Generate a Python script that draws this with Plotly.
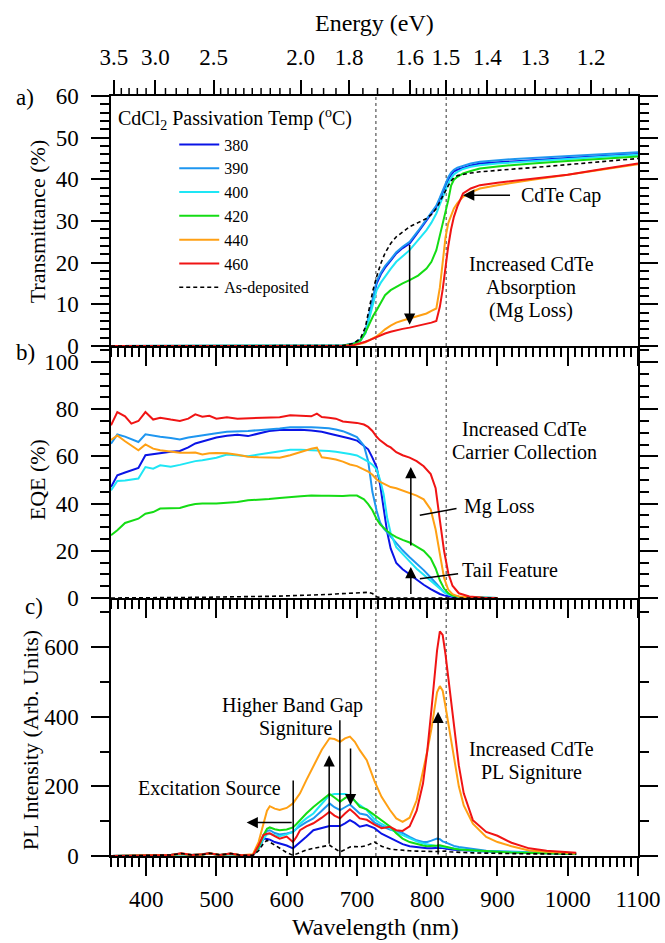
import plotly.graph_objects as go

# ---------------- data ----------------
# a) transmittance (%)
wl_T = [350, 450, 550, 650, 680, 695, 705, 712, 718, 723, 728, 734, 740, 748, 756, 765, 775, 787,
        799, 806, 813, 818, 822, 826, 830, 834, 838, 843, 851, 862, 875, 900, 925, 950, 1000, 1050, 1100]
T_380 = [0, 0, 0, 0, 0.1, 0.5, 1.3, 3.2, 7.8, 11.5, 15, 17.2, 18.8, 20.5, 22.2, 23.5, 24.6, 27.3,
         30.2, 31.6, 33.4, 35.2, 36.8, 38.5, 40, 41.1, 41.9, 42.3, 42.8, 43.3, 43.8, 44.1, 44.4, 44.6, 45.1, 45.6, 46.1]
T_390 = [0, 0, 0, 0, 0.1, 0.6, 1.5, 3.5, 8.2, 12, 15.5, 17.6, 19.2, 20.8, 22.5, 23.8, 25, 27.6,
         30.4, 31.9, 33.7, 35.6, 37.3, 39, 40.5, 41.6, 42.3, 42.8, 43.3, 43.8, 44.2, 44.6, 44.9, 45.1, 45.6, 46.1, 46.5]
T_400 = [0, 0, 0, 0, 0.1, 0.5, 1.3, 3, 7, 10.2, 13.4, 15.2, 16.7, 18.5, 20.2, 21.6, 23, 25.4,
         27.8, 29.6, 31.8, 34, 35.8, 37.4, 39, 40.3, 41.2, 41.8, 42.5, 43, 43.4, 43.8, 44.1, 44.4, 44.9, 45.4, 45.9]
T_420 = [0, 0, 0, 0, 0.1, 0.5, 1.3, 3.2, 5.5, 7.2, 8.6, 10.5, 12.2, 13.4, 14.2, 15, 15.8, 16.9,
         18.6, 20.2, 23, 26.5, 29.5, 31.8, 35, 38.5, 39.9, 40.6, 41.4, 42, 42.6, 43.1, 43.5, 43.8, 44.4, 45, 45.5]
T_440 = [0, 0, 0, 0, 0, 0.2, 0.5, 0.9, 1.4, 1.8, 2.3, 3.1, 4, 4.9, 5.6, 6.1, 6.6, 7.2,
         7.8, 8.4, 9, 14, 20, 26, 29.5, 31.5, 33, 34.3, 35.8, 36.9, 37.8, 38.6, 39.3, 39.9, 41.1, 42.4, 43.6]
T_460 = [0, 0, 0, 0, 0, 0.2, 0.6, 1, 1.4, 1.8, 2.2, 2.6, 3, 3.4, 3.8, 4.1, 4.4, 4.8,
         5.2, 5.6, 6, 9.4, 13.5, 19.5, 24, 28, 31, 33.5, 36.6, 37.8, 38.6, 39.2, 39.7, 40.1, 41.1, 42.5, 43.8]
T_asdep = [0, 0, 0, 0, 0.1, 0.6, 1.8, 4.5, 9.5, 13.5, 16.6, 19.8, 22.3, 24.6, 26.2, 27.4, 28.6, 29.6,
           30.6, 31.6, 33, 34.6, 36, 37.2, 38.5, 39.6, 40.4, 40.9, 41.2, 41.5, 41.8, 42.2, 42.5, 42.8, 43.5, 44.2, 45]

# b) external quantum efficiency (%)
wl_E = [350, 359, 370, 379, 389, 399, 410, 420, 435, 448, 460, 470, 480, 490, 500, 515, 530, 545,
        560, 575, 590, 605, 620, 635, 643, 650, 660, 670, 680, 690, 700, 710, 716, 722, 728, 733,
        738, 743, 748, 756, 765, 775, 785, 795, 805, 812, 818, 824, 830, 836, 845, 860, 880, 900]
E_460 = [73.2, 78.8, 77, 73.9, 75, 78.8, 75.6, 76.4, 75.6, 75, 76, 77.8, 76.8, 77.2, 76, 76.6, 76, 76.2,
         76.4, 76.5, 76.6, 77.4, 77.2, 77, 78.1, 76.7, 76.4, 76, 74.8, 74.6, 74.2, 73.5, 72.5, 70.8, 68.3, 66.8,
         65.6, 64.6, 63.8, 61.8, 60.5, 59.5, 58, 55.8, 52.5, 46.5, 33, 20, 10.5, 5.2, 2, 0.6, 0.1, 0]
E_440 = [67, 68.9, 66.4, 64.5, 62.6, 65.1, 63.3, 62.6, 62, 61.5, 61.5, 61.6, 60.8, 61.3, 61.4, 61.3, 60.7, 59.9,
         59.6, 59.4, 59.4, 60.5, 61.9, 63.2, 63.7, 59.6, 59.2, 58.7, 57.8, 56.6, 55.9, 54.3, 53.6, 52.2, 50.2, 49.2,
         48.5, 47.6, 47, 46.5, 45.6, 44.6, 43.4, 41.8, 37.5, 29, 18.5, 8.5, 3.5, 1.6, 0.6, 0.2, 0, 0]
E_390 = [65.4, 69.3, 68.4, 67.2, 66.1, 69.4, 68.8, 68.3, 67.8, 67.2, 68, 68.5, 69, 69.3, 69.8, 70.4, 70.5, 70.8,
         71.1, 71.3, 71.8, 72.3, 72.4, 72.3, 72.2, 72.2, 71.9, 71.4, 70.7, 69.5, 68.2, 64.5, 58, 45, 37, 32,
         29.5, 27.8, 26, 23, 20.2, 17.3, 14.6, 11.8, 8.7, 6.5, 4.2, 2.5, 1.5, 0.9, 0.5, 0.2, 0.1, 0]
E_380 = [47, 52, 53.2, 54.1, 55.1, 60.5, 61, 61.6, 62, 62.3, 63.8, 65.5, 66.4, 67.2, 68, 68.7, 69.2, 68.6,
         69.6, 70.8, 71.2, 71.4, 71.3, 71, 70.7, 70.4, 69.7, 69.1, 68.4, 67.6, 66.7, 64.6, 63, 59.5, 55.5, 48,
         38, 28, 21, 14.8, 12.2, 10, 7.8, 5.6, 3.8, 2.6, 1.7, 1.1, 0.7, 0.4, 0.2, 0.1, 0, 0]
E_400 = [45.6, 49.6, 49.8, 50.2, 50.6, 55.5, 54.8, 56.2, 55.6, 56.4, 57.4, 58, 58.4, 58.8, 59.4, 60.8, 60.5, 60.1,
         60.8, 61.5, 62.1, 62.8, 62.8, 62.7, 62.6, 62.6, 62.3, 62, 61.6, 61, 60.4, 58.8, 57.8, 56.5, 54.5, 50,
         44, 34, 27.5, 21.5, 18.5, 15.5, 12.4, 9.8, 7.4, 5.6, 4, 2.5, 1.5, 0.9, 0.5, 0.2, 0.1, 0]
E_420 = [26.6, 28.7, 31.8, 32.7, 33.6, 35.7, 36.4, 37.9, 38, 38.1, 39.2, 39.8, 40, 40, 40, 40.4, 40.7, 41.4,
         41.6, 41.9, 42.4, 42.9, 43.1, 43.4, 43.5, 43.3, 43.3, 43.2, 43.2, 43.4, 43.4, 41.8, 39.8, 37.2, 33.5, 31.2,
         29.6, 28.4, 27.2, 25.8, 24.6, 23.5, 21.8, 20, 16.8, 12.5, 7.5, 4, 2, 1, 0.5, 0.2, 0.1, 0]
E_asdep = [0, 0, 0, 0, 0, 0, 0, 0.1, 0.1, 0.1, 0.2, 0.2, 0.3, 0.3, 0.4, 0.4, 0.5, 0.6,
           0.6, 0.7, 0.8, 0.9, 1, 1.2, 1.3, 1.4, 1.5, 1.7, 1.9, 2.1, 2.3, 2.5, 2.4, 1.9, 0.5, 0.1,
           0, 0, 0, 0, 0, 0, 0, 0, 0, 0, 0, 0, 0, 0, 0, 0, 0, 0]

# c) photoluminescence (arb. units)
wl_P = [350, 380, 400, 420, 435, 450, 465, 480, 490, 505, 520, 535, 552, 560, 567, 572, 576, 583,
        590, 600, 609, 614, 619, 628, 638, 650, 661, 668, 676, 683, 690, 697, 704, 714, 725, 735,
        747, 756, 765, 775, 785, 794, 800, 806, 810, 814, 818, 822, 826, 832, 838, 845, 852, 865,
        884, 900, 920, 945, 970, 993, 1012]
P_380 = [0, 1, 2, 2, 3, 6, 3, 4, 7, 3, 6, 2, 2, 20, 50, 49, 47, 40,
         36, 30, 22, 30, 38, 55, 74, 80, 86, 86, 86, 94, 103, 95, 84, 89, 80, 64,
         52, 42, 34, 28, 25, 23, 22, 22, 23, 24, 24, 23, 21, 19, 18, 17, 17, 15,
         13, 12, 10, 9, 8, 7, 7]
P_390 = [0, 1, 2, 3, 3, 7, 3, 5, 8, 3, 7, 2, 3, 28, 60, 72, 74, 66,
         62, 65, 69, 78, 86, 97, 108, 130, 151, 140, 132, 140, 148, 135, 122, 118, 96, 86,
         76, 71, 66, 55, 45, 40, 40, 44, 48, 50, 48, 42, 39, 33, 29, 26, 24, 19,
         15, 14, 13, 12, 9, 7, 5]
P_400 = [0, 1, 2, 2, 3, 6, 3, 4, 7, 3, 6, 2, 3, 22, 50, 62, 64, 60,
         57, 62, 69, 80, 93, 108, 122, 150, 175, 178, 178, 178, 174, 158, 146, 132, 105, 92,
         79, 68, 60, 50, 42, 36, 33, 30, 29, 28, 27, 26, 25, 22, 20, 19, 18, 15,
         13, 12, 10, 9, 8, 7, 6]
P_420 = [0, 1, 1, 2, 3, 6, 3, 4, 7, 3, 6, 2, 3, 25, 60, 78, 82, 77,
         74, 76, 82, 92, 103, 122, 141, 160, 178, 168, 156, 166, 175, 158, 141, 134, 118, 105,
         85, 65, 50, 40, 34, 30, 28, 28, 29, 30, 31, 29, 26, 24, 21, 19, 18, 15,
         13, 12, 10, 9, 8, 7, 6]
P_440 = [0, 1, 2, 2, 3, 7, 3, 4, 8, 3, 7, 2, 5, 40, 94, 130, 143, 136,
         132, 138, 151, 165, 180, 218, 256, 305, 338, 336, 328, 338, 343, 328, 304, 275, 215, 170,
         132, 108, 98, 110, 160, 240, 300, 365, 420, 470, 488, 475, 430, 360, 280, 200, 145, 93,
         55, 40, 28, 16, 12, 9, 7]
P_460 = [0, 1, 2, 3, 3, 8, 3, 5, 8, 3, 7, 2, 2, 30, 60, 64, 65, 57,
         50, 56, 40, 55, 74, 85, 94, 110, 127, 116, 108, 122, 134, 122, 108, 104, 90, 80,
         84, 74, 72, 85, 130, 208, 300, 420, 500, 590, 645, 635, 580, 476, 380, 260, 180, 103,
         69, 58, 38, 22, 15, 12, 9]
P_asdep = [0, 1, 2, 2, 3, 7, 3, 4, 8, 3, 7, 2, 2, 15, 36, 45, 40, 30,
           22, 10, 2, 6, 12, 17, 22, 27, 31, 22, 12, 18, 26, 27, 26, 30, 40, 28,
           20, 18, 16, 15, 14, 13, 12, 12, 13, 13, 14, 14, 14, 12, 11, 10, 10, 9,
           8, 8, 7, 6, 6, 5, 5]

# top-axis photon energies (eV)
energy_major = [3.5, 3.0, 2.5, 2.0, 1.8, 1.6, 1.5, 1.4, 1.3, 1.2]
energy_labels = ["3.5", "3.0", "2.5", "2.0", "1.8", "1.6", "1.5", "1.4", "1.3", "1.2"]
energy_minor = [3.4, 3.3, 3.2, 3.1, 2.9, 2.8, 2.7, 2.6,
                2.45, 2.4, 2.35, 2.3, 2.25, 2.2, 2.15, 2.1, 2.05,
                1.95, 1.9, 1.85, 1.75, 1.7, 1.65,
                1.58, 1.56, 1.54, 1.52, 1.48, 1.46, 1.44, 1.42,
                1.38, 1.36, 1.34, 1.32, 1.28, 1.26, 1.24, 1.22, 1.18, 1.16, 1.14]
HC = 1239.84  # eV*nm

temps = ["380", "390", "400", "420", "440", "460"]
colors = ["#0a14e6", "#1e96f0", "#1ee6f5", "#14dc14", "#ffa014", "#f01414"]

FONT = "Liberation Serif, Times New Roman, serif"
BLACK = "black"

fig = go.Figure()

series = [
    (wl_T, [T_380, T_390, T_400, T_420, T_440, T_460], T_asdep, "x", "y", True),
    (wl_E, [E_380, E_390, E_400, E_420, E_440, E_460], E_asdep, "x2", "y2", False),
    (wl_P, [P_380, P_390, P_400, P_420, P_440, P_460], P_asdep, "x3", "y3", False),
]
for wl, ys, asdep, xa, ya, leg in series:
    for name, col, yv in zip(temps, colors, ys):
        fig.add_trace(go.Scatter(x=wl, y=yv, mode="lines", name=name, xaxis=xa, yaxis=ya,
                                 line=dict(color=col, width=2), showlegend=leg,
                                 legendgroup=name))
    fig.add_trace(go.Scatter(x=wl, y=asdep, mode="lines", name="As-deposited", xaxis=xa, yaxis=ya,
                             line=dict(color=BLACK, width=1.6, dash="4px,3px"), showlegend=leg,
                             legendgroup="asdep"))

# empty carrier so the energy axis on top of panel a is drawn
fig.add_trace(go.Scatter(x=[], y=[], xaxis="x4", yaxis="y", showlegend=False, hoverinfo="skip"))

# ---------------- axes ----------------
tickfont = dict(family=FONT, size=23, color=BLACK)
X_RANGE = [350, 1100]
Y_RANGES = {"y": [0, 60], "y2": [0, 106.8], "y3": [0, 741]}
minor_style = dict(ticks="outside", ticklen=9, tickwidth=1.5, tickcolor=BLACK)
common_x = dict(range=X_RANGE, showgrid=False, zeroline=False, showline=True, linewidth=1.5,
                linecolor=BLACK, ticks="outside", ticklen=18, tickwidth=1.5, tickcolor=BLACK,
                tickmode="linear", tick0=0, dtick=100,
                minor=dict(minor_style, dtick=10),
                tickfont=tickfont, ticklabelstandoff=4)
common_y = dict(showgrid=False, zeroline=False, showline=True, linewidth=1.5, linecolor=BLACK,
                mirror="ticks", ticks="outside", ticklen=18, tickwidth=1.5, tickcolor=BLACK,
                tickfont=tickfont, ticklabelstandoff=8, tickmode="linear", tick0=0)

domains = {"y": [0.6711, 1.0], "y2": [0.3395, 0.6711], "y3": [0.0, 0.3395]}

fig.update_layout(
    xaxis=dict(common_x, domain=[0, 1], anchor="y", showticklabels=False, matches="x3"),
    xaxis2=dict(common_x, domain=[0, 1], anchor="y2", showticklabels=False, matches="x3"),
    xaxis3=dict(common_x, domain=[0, 1], anchor="y3", showticklabels=True),
    xaxis4=dict(overlaying="x", side="top", anchor="y", range=X_RANGE, showgrid=False, zeroline=False,
                showline=True, linewidth=1.5, linecolor=BLACK, ticks="outside", ticklen=14, tickwidth=1.5,
                tickcolor=BLACK, tickmode="array", tickvals=[HC / e for e in energy_major],
                ticktext=energy_labels, tickfont=tickfont, ticklabelstandoff=6),
    yaxis=dict(common_y, domain=domains["y"], anchor="x", range=Y_RANGES["y"], dtick=10,
               minor=dict(minor_style, dtick=2)),
    yaxis2=dict(common_y, domain=domains["y2"], anchor="x2", range=Y_RANGES["y2"], dtick=20,
                minor=dict(minor_style, dtick=5)),
    yaxis3=dict(common_y, domain=domains["y3"], anchor="x3", range=Y_RANGES["y3"], dtick=200,
                minor=dict(minor_style, dtick=100)),
)

# ---------------- reference lines ----------------
shapes = []
for xv in (727, 827):
    shapes.append(dict(type="line", xref="x", yref="paper", x0=xv, x1=xv, y0=0, y1=1, layer="below",
                       line=dict(color="#333333", width=1, dash="dot")))
# pointer lines
shapes.append(dict(type="line", xref="x2", yref="y2", x0=841.7, y0=37.9, x1=789.5, y1=35.1,
                   line=dict(color=BLACK, width=1.5)))
shapes.append(dict(type="line", xref="x2", yref="y2", x0=844, y0=10.3, x1=789.5, y1=8.2,
                   line=dict(color=BLACK, width=1.5)))
shapes.append(dict(type="line", xref="x3", yref="y3", x0=675.7, y0=0, x1=675.7, y1=390,
                   line=dict(color=BLACK, width=1.5)))
shapes.append(dict(type="line", xref="x3", yref="y3", x0=609.3, y0=0, x1=609.3, y1=217,
                   line=dict(color=BLACK, width=1.5)))

# energy-axis minor ticks as short pixel-length segments on the top edge
for e in energy_minor:
    shapes.append(dict(type="line", xref="x", yref="paper", ysizemode="pixel", yanchor=1,
                       x0=HC / e, x1=HC / e, y0=0, y1=8, line=dict(color=BLACK, width=1.5)))
fig.update_layout(shapes=shapes)

# ---------------- annotations ----------------
ann = []


def arrow(xr, yr, xt, yt, xh, yh):
    ann.append(dict(xref=xr, yref=yr, axref=xr, ayref=yr, x=xh, y=yh, ax=xt, ay=yt, text="",
                    showarrow=True, arrowhead=2, arrowsize=1.5, arrowwidth=1.5, arrowcolor=BLACK,
                    standoff=0, startstandoff=0))


def label(xr, yr, x, y, txt, anchor="center", size=20):
    ann.append(dict(xref=xr, yref=yr, x=x, y=y, text=txt, showarrow=False, xanchor=anchor,
                    yanchor="middle", font=dict(family=FONT, size=size, color=BLACK)))


def paper_text(px, py, txt, size, angle=0, anchor="center"):
    ann.append(dict(xref="paper", yref="paper", x=(px - 111) / 527, y=(855.7 - py) / 760, text=txt,
                    textangle=angle, showarrow=False, xanchor=anchor, yanchor="middle",
                    font=dict(family=FONT, size=size, color=BLACK)))


# panel a
label("x", "y", 931, 36.2, "CdTe Cap", "left")
arrow("x", "y", 920, 36.2, 851, 36.2)
arrow("x", "y", 775, 24.6, 775, 5.1)
label("x", "y", 948, 19.6, "Increased CdTe")
label("x", "y", 948, 14.1, "Absorption")
label("x", "y", 948, 8.4, "(Mg Loss)")
# panel b
label("x2", "y2", 939, 71.8, "Increased CdTe")
label("x2", "y2", 939, 61.9, "Carrier Collection")
label("x2", "y2", 849, 38.6, "Mg Loss", "left")
label("x2", "y2", 846, 11.7, "Tail Feature", "left")
arrow("x2", "y2", 776.7, 21.6, 776.7, 55.5)
arrow("x2", "y2", 776.7, 1.1, 776.7, 13.1)
# panel c
label("x3", "y3", 609, 433, "Higher Band Gap")
label("x3", "y3", 612, 366, "Signiture")
arrow("x3", "y3", 660.5, 31, 660.5, 289)
arrow("x3", "y3", 690.9, 313, 690.9, 146)
label("x3", "y3", 595, 194, "Excitation Source", "right")
arrow("x3", "y3", 609.3, 96, 543, 96)
label("x3", "y3", 948, 306, "Increased CdTe")
label("x3", "y3", 948, 241, "PL Signiture")
arrow("x3", "y3", 815.5, 0, 815.5, 414)

# legend heading
paper_text(116, 119, "CdCl<sub>2</sub> Passivation Temp (<sup>o</sup>C)", 20, anchor="left")

# panel letters, axis titles
for txt, px, py in (("a)", 25, 97), ("b)", 25, 352), ("c)", 34, 606)):
    paper_text(px, py, txt, 23)
paper_text(37, 221, "Transmittance (%)", 22, angle=-90)
paper_text(37, 480, "EQE (%)", 22, angle=-90)
paper_text(30, 740, "PL Intensity (Arb. Units)", 22, angle=-90)
paper_text(374, 23, "Energy (eV)", 24)
paper_text(375, 927, "Wavelength (nm)", 24)

fig.update_layout(annotations=ann)

fig.update_layout(
    width=665, height=943,
    margin=dict(l=111, r=27, t=96, b=87, autoexpand=False),
    paper_bgcolor="white", plot_bgcolor="white",
    font=dict(family=FONT, size=20, color=BLACK),
    showlegend=True,
    legend=dict(x=0.12, y=0.9585, xanchor="left", yanchor="top", bgcolor="rgba(0,0,0,0)",
                borderwidth=0, font=dict(family=FONT, size=16, color=BLACK), tracegroupgap=0,
                itemwidth=40),
)

fig.write_html("out.html")
